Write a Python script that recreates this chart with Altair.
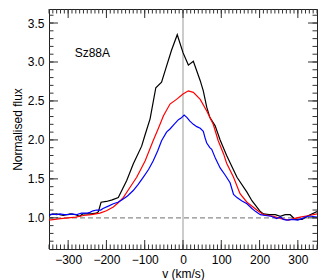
import altair as alt
import pandas as pd

# ---- data ----
black_v = [-350, -330, -313, -295, -280, -270, -262, -240, -226, -221, -214, -200, -185, -169,
           -147, -130, -108, -100, -86, -71, -56, -44, -30, -15, 0, 14, 27, 45, 53, 62, 70, 84,
           97, 114, 141, 167, 180, 202, 210, 225, 241, 254, 267, 280, 293, 311, 328, 350]
black_f = [1.04, 1.05, 1.03, 1.05, 1.04, 1.02, 1.05, 1.05, 1.06, 1.08, 1.20, 1.21, 1.23, 1.26,
           1.48, 1.69, 1.92, 2.05, 2.27, 2.67, 2.74, 2.93, 3.15, 3.35, 3.12, 2.96, 3.01, 2.76, 2.63, 2.42, 2.29, 2.18,
           2.00, 1.80, 1.52, 1.33, 1.22, 1.08, 1.05, 1.04, 1.04, 1.02, 1.04, 1.04, 0.98, 0.98, 1.03, 1.08]

red_v = [-350, -320, -300, -280, -260, -240, -217, -200, -182, -170, -156, -140, -121, -99, -78,
         -65, -51, -34, -17, 0, 14, 27, 45, 62, 79, 92, 106, 114, 132, 149, 167, 193, 210, 236,
         256, 276, 290, 306, 330, 350]
red_f = [0.97, 0.99, 1.00, 1.01, 1.03, 1.04, 1.06, 1.09, 1.14, 1.19, 1.26, 1.38, 1.52, 1.73, 1.99,
         2.14, 2.31, 2.46, 2.52, 2.59, 2.63, 2.61, 2.52, 2.37, 2.20, 1.99, 1.82, 1.70, 1.52, 1.31, 1.20, 1.10, 1.04, 1.02,
         0.99, 0.97, 0.99, 1.01, 1.03, 1.05]

blue_v = [-350, -340, -330, -322, -310, -300, -290, -279, -265, -250, -243, -235, -226, -215, -209,
          -195, -182, -170, -160, -145, -130, -117, -104, -90, -78, -66, -56, -43, -34, -25, -12, -5,
          3, 10, 18, 27, 36, 45, 53, 58, 62, 70, 75, 85, 97, 110, 123, 132, 141, 153, 167, 180, 190,
          202, 215, 230, 245, 255, 262, 271, 285, 300, 315, 324, 335, 350]
blue_f = [1.03, 1.05, 1.04, 1.05, 1.04, 1.04, 1.05, 1.04, 1.06, 1.06, 1.07, 1.09, 1.10, 1.10, 1.12,
          1.15, 1.18, 1.20, 1.23, 1.28, 1.35, 1.43, 1.52, 1.62, 1.73, 1.86, 1.99, 2.10, 2.14, 2.19, 2.26, 2.28,
          2.32, 2.29, 2.24, 2.20, 2.17, 2.15, 2.11, 2.02, 1.96, 1.90, 1.88, 1.76, 1.64, 1.55, 1.45, 1.30, 1.26, 1.22, 1.18, 1.12, 1.08,
          1.04, 1.03, 1.02, 0.99, 1.01, 0.98, 0.97, 0.98, 0.97, 1.00, 1.02, 1.02, 1.01]

x_labels = [-300, -200, -100, 0, 100, 200, 300]
y_labels = [1.0, 1.5, 2.0, 2.5, 3.0, 3.5]
x_minor = [v for v in range(-350, 351, 10)]
y_minor = [round(0.7 + 0.1 * i, 1) for i in range(30)]

label_text = ["Sz88A"]
label_v = [-283]
label_f = [3.11]

W, H = 268, 240
FONT = "Liberation Sans"

xs = alt.Scale(domain=[-350, 350], nice=False, zero=False)
ys = alt.Scale(domain=[0.6, 3.68], nice=False, zero=False)
xax = alt.Axis(title="v (km/s)", values=x_labels, format="d")
yax = alt.Axis(title="Normalised flux", values=y_labels, format=".1f")


def X(field):
    return alt.X(field, scale=xs, axis=xax)


def Y(field):
    return alt.Y(field, scale=ys, axis=yax)


rows = []
for name, vv, ff in (("black", black_v, black_f), ("red", red_v, red_f), ("blue", blue_v, blue_f)):
    for i, (v, f) in enumerate(zip(vv, ff)):
        rows.append({"series": name, "v": v, "f": f, "i": i})
df = pd.DataFrame(rows)

lines = alt.Chart(df).mark_line(strokeWidth=1.2, clip=True).encode(
    x=X("v:Q"),
    y=Y("f:Q"),
    color=alt.Color("series:N",
                    scale=alt.Scale(domain=["black", "red", "blue"],
                                    range=["#000000", "#ff0000", "#0000ff"]),
                    legend=None),
    order="i:Q",
    detail="series:N",
)

zero_line = alt.Chart(pd.DataFrame({"v": [0]})).mark_rule(color="#cccccc", strokeWidth=2).encode(
    x=X("v:Q"))
one_line = alt.Chart(pd.DataFrame({"f": [1.0]})).mark_rule(
    color="#8c8c8c", strokeWidth=1.3, strokeDash=[5, 3]).encode(
    y=Y("f:Q"))

label = alt.Chart(pd.DataFrame({"t": label_text, "v": label_v, "f": label_f})).mark_text(
    align="left", baseline="middle", font=FONT, fontSize=12, color="black").encode(
    x=X("v:Q"), y=Y("f:Q"), text="t:N")


def ticks(vals, side, length):
    d = pd.DataFrame({"t": vals})
    base = alt.Chart(d).mark_rule(color="#333333", strokeWidth=1)
    if side == "bottom":
        return base.encode(x=X("t:Q"), y=alt.value(H), y2=alt.value(H - length))
    if side == "top":
        return base.encode(x=X("t:Q"), y=alt.value(0), y2=alt.value(length))
    if side == "left":
        return base.encode(y=Y("t:Q"), x=alt.value(0), x2=alt.value(length))
    return base.encode(y=Y("t:Q"), x=alt.value(W), x2=alt.value(W - length))


tick_layers = []
for side in ("bottom", "top"):
    tick_layers.append(ticks(x_minor, side, 4.5))
    tick_layers.append(ticks(x_labels, side, 9))
for side in ("left", "right"):
    tick_layers.append(ticks(y_minor, side, 4.5))
    tick_layers.append(ticks(y_labels, side, 9))

chart = alt.layer(zero_line, one_line, lines, label, *tick_layers).properties(
    width=W, height=H,
    padding={"left": 41, "top": 1, "right": 2, "bottom": 40},
    autosize=alt.AutoSizeParams(type="none"),
).configure_view(
    stroke="#222222", strokeWidth=1
).configure_axis(
    domain=False, ticks=False, grid=False,
    labelFont=FONT, labelFontSize=12, labelColor="black", labelPadding=5,
    titleFont=FONT, titleFontSize=12, titleFontWeight="normal", titleColor="black",
    titlePadding=3,
)

chart.save("out.html", embed_options={"renderer": "svg", "actions": False})
